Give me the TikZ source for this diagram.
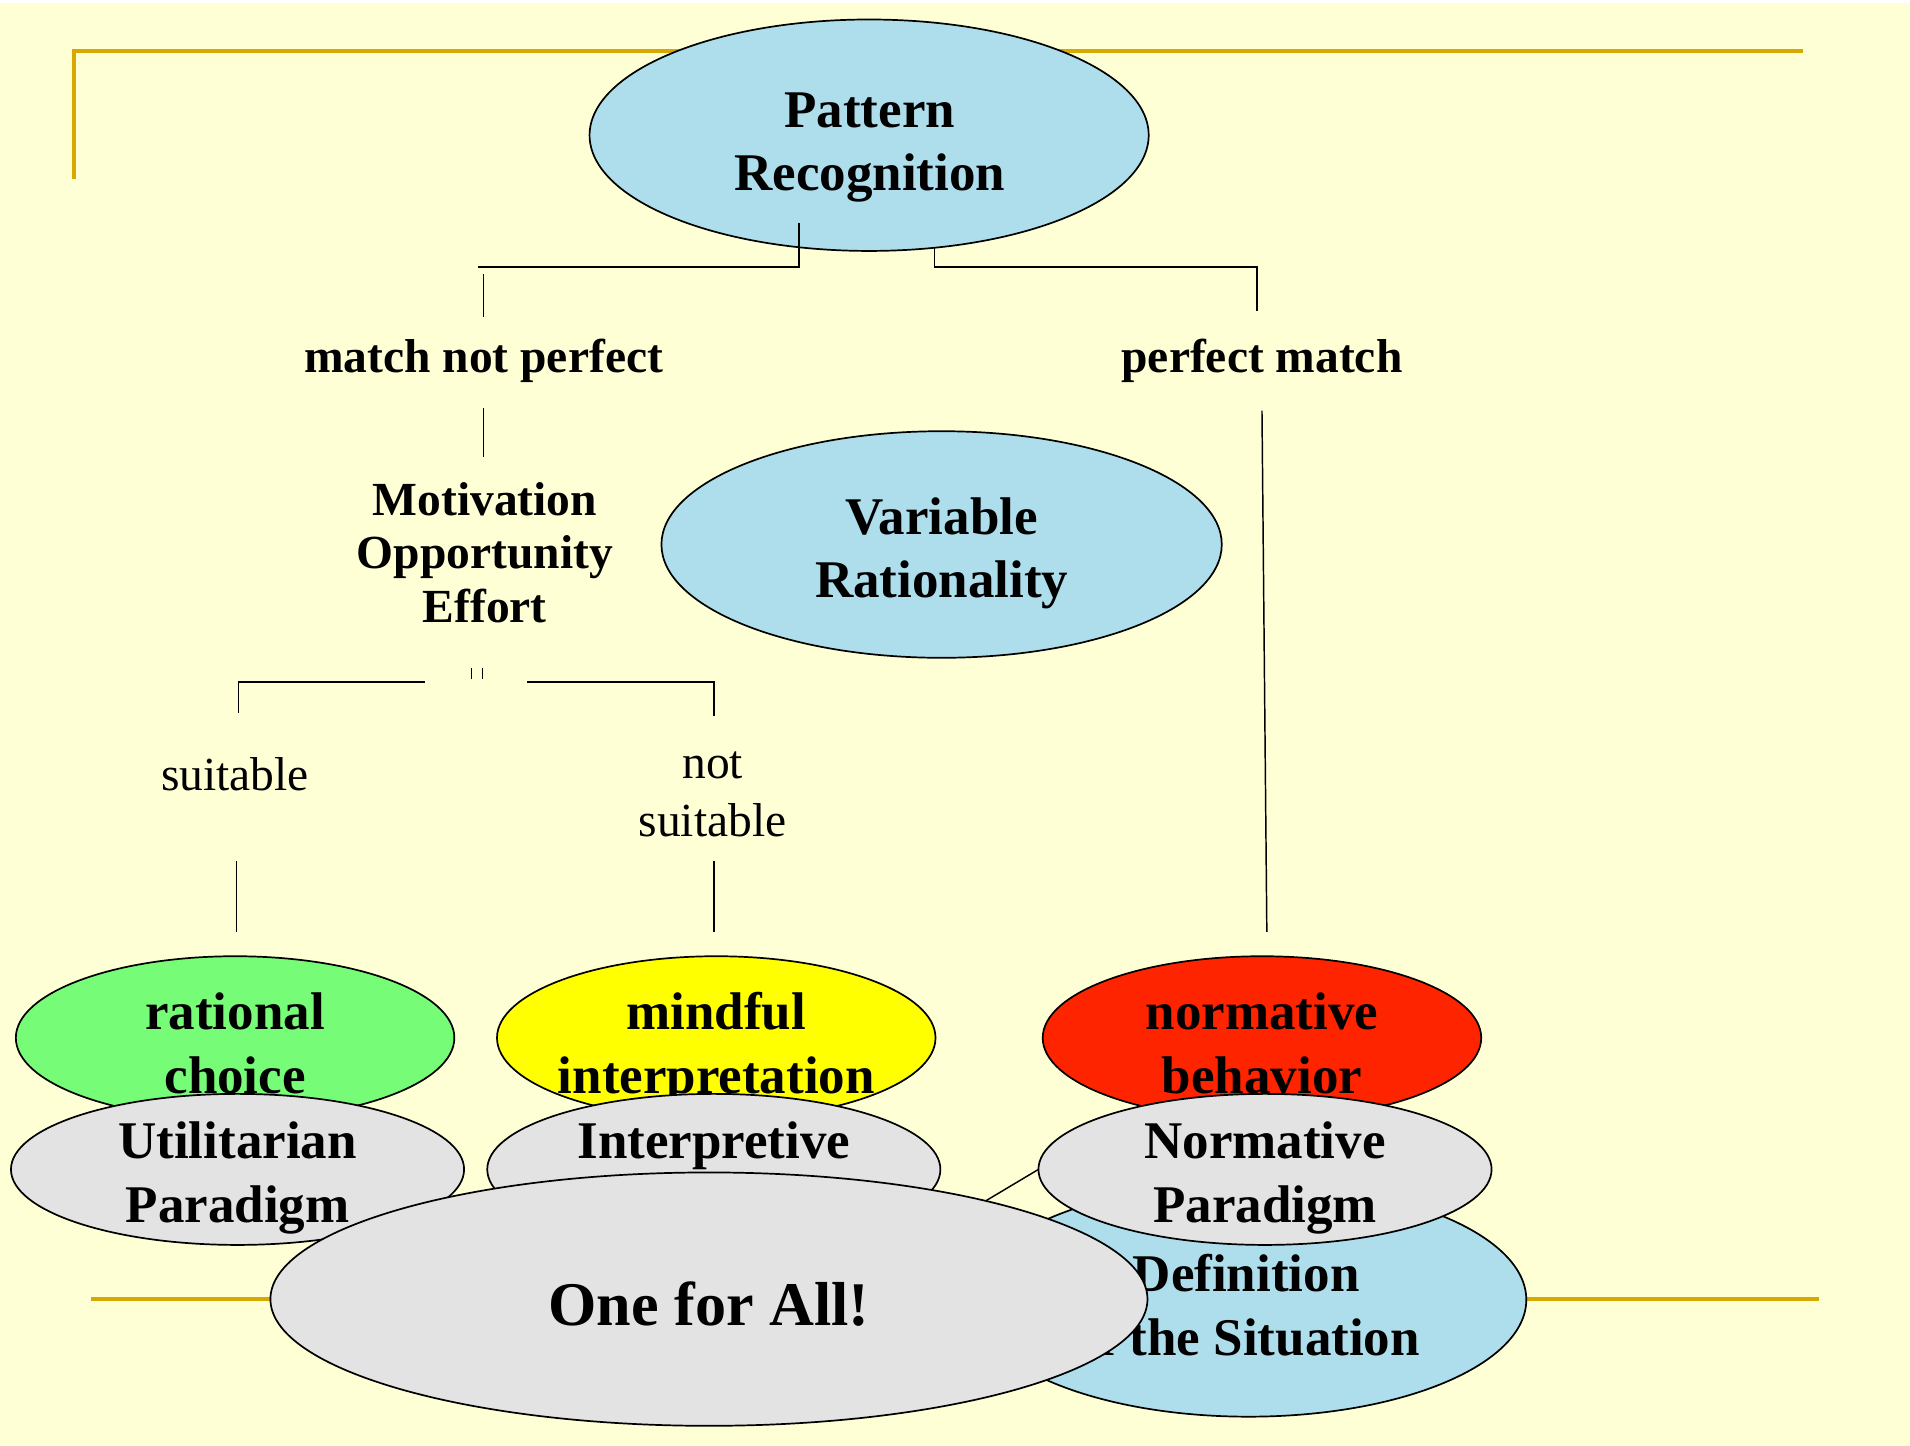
\documentclass[tikz,border=0pt]{standalone}
\usepackage{fontspec}
\setmainfont{Liberation Serif}
\usetikzlibrary{shapes.geometric}
\definecolor{bgc}{HTML}{FFFFD6}
\definecolor{goldc}{HTML}{D6A800}
\definecolor{lblue}{HTML}{AEDEEC}
\definecolor{lgreen}{HTML}{77FC77}
\definecolor{lyellow}{HTML}{FFFF00}
\definecolor{lred}{HTML}{FF2400}
\definecolor{lgrey}{HTML}{E3E3E3}
\tikzset{
  ell/.style={ellipse, draw=black, line width=1.4pt, inner sep=0pt},
  lbl/.style={font=\bfseries\fontsize{43.5}{52}\selectfont, align=center, inner sep=0pt},
  midlbl/.style={font=\bfseries\fontsize{39}{44}\selectfont, align=center, inner sep=0pt},
  reglbl/.style={font=\fontsize{39}{48}\selectfont, align=center, inner sep=0pt},
  biglbl/.style={font=\bfseries\fontsize{51}{61}\selectfont, align=center, inner sep=0pt},
  conn/.style={draw=black, line width=1.2pt},
  goldline/.style={draw=goldc, line width=3pt}
}
\begin{document}
\begin{tikzpicture}[x=1pt,y=-1pt]
\useasboundingbox (0,0) rectangle (1568,1187);
\fill[bgc] (0,0) rectangle (1568,1187);
\fill[white] (0,0) rectangle (1568,2.5);

% gold frame lines
\coordinate (g1) at (61,147);
\coordinate (g2) at (61,42);
\coordinate (g3) at (1480,42);
\coordinate (g4) at (75,1066.5);
\coordinate (g5) at (1493,1066.5);
\draw[goldline] (g1) -- (g2) -- (g3);
\draw[goldline] (g4) -- (g5);

% top ellipses
\node[ell, fill=lblue, minimum width=459, minimum height=190] (pr) at (713.5,111) {};
\node[lbl] (prt) at (714,120) {\strut Pattern\\\strut Recognition};
\node[ell, fill=lblue, minimum width=460, minimum height=186] (vr) at (773,447) {};
\node[lbl] (vrt) at (773,454) {\strut Variable\\\strut Rationality};

% labels
\node[midlbl] (mnp) at (397,297) {\strut match not perfect};
\node[midlbl] (pm) at (1036,297) {\strut perfect match};
\node[midlbl] (moe) at (398,458) {\strut Motivation\\\strut Opportunity\\\strut Effort};
\node[reglbl] (suit) at (193,639) {\strut suitable};
\node[reglbl] (nsuit) at (585,653.5) {\strut not\\\strut suitable};

% connectors
\coordinate (a1) at (656,183);
\coordinate (a2) at (392,219);
\coordinate (a3) at (397,225);
\coordinate (a4) at (397,260);
\coordinate (a5) at (397,335);
\coordinate (a6) at (397,375);
\coordinate (b1) at (767,203);
\coordinate (b2) at (1032,255);
\coordinate (b3) at (1036,337);
\coordinate (b4) at (1040,765);
\coordinate (t1) at (387,548);
\coordinate (t2) at (387,557);
\coordinate (t3) at (396,548);
\coordinate (t4) at (396,557);
\coordinate (s1) at (196,585);
\coordinate (s2) at (349,560);
\coordinate (s3) at (433,560);
\coordinate (s4) at (586,588);
\coordinate (d1) at (194,707);
\coordinate (d2) at (194,765);
\coordinate (e1) at (586,707);
\coordinate (e2) at (586,765);
\draw[conn] (a1) |- (a2);
\draw[conn] (a3) -- (a4);
\draw[conn] (a5) -- (a6);
\draw[conn] (b1) |- (b2 |- a2) -- (b2);
\draw[conn] (b3) -- (b4);
\draw[line width=0.9pt] (t1) -- (t2);
\draw[line width=0.9pt] (t3) -- (t4);
\draw[conn] (s1) |- (s2);
\draw[conn] (s3) -| (s4);
\draw[conn] (d1) -- (d2);
\draw[conn] (e1) -- (e2);

% outcome ellipses
\node[ell, fill=lgreen, minimum width=360, minimum height=134] (rc) at (193,852) {};
\node[lbl] (rct) at (193,861) {\strut rational\\\strut choice};
\node[ell, fill=lyellow, minimum width=360, minimum height=134] (mi) at (588,852) {};
\node[lbl] (mit) at (588,861) {\strut mindful\\\strut interpretation};
\node[ell, fill=lred, minimum width=360, minimum height=134] (nb) at (1036,852) {};
\node[lbl] (nbt) at (1036,861) {\strut normative\\\strut behavior};

% paradigms
\node[ell, fill=lgrey, minimum width=372, minimum height=124] (up) at (195,960) {};
\node[lbl] (upt) at (195,967) {\strut Utilitarian\\\strut Paradigm};
\node[ell, fill=lgrey, minimum width=372, minimum height=124] (ip) at (586,960) {};
\node[lbl] (ipt) at (586,967) {\strut Interpretive\\\strut Paradigm};

% diagonal connector (behind the lower ellipses)
\coordinate (dz) at (700,1051);
\coordinate (npw) at (852.5,960);
\draw[conn] (dz) -- (npw);

\node[ell, fill=lblue, minimum width=456, minimum height=192] (ds) at (1025,1067) {};
\node[lbl] (dst) at (1023,1076) {\strut Definition\\\strut of the Situation};

\node[ell, fill=lgrey, minimum width=372, minimum height=124] (np) at (1038.5,960) {};
\node[lbl] (npt) at (1038.5,967) {\strut Normative\\\strut Paradigm};

\node[ell, fill=lgrey, minimum width=720, minimum height=208] (ofa) at (582,1066.5) {};
\node[biglbl] (ofat) at (582,1076) {\strut One for All!};
\end{tikzpicture}
\end{document}
